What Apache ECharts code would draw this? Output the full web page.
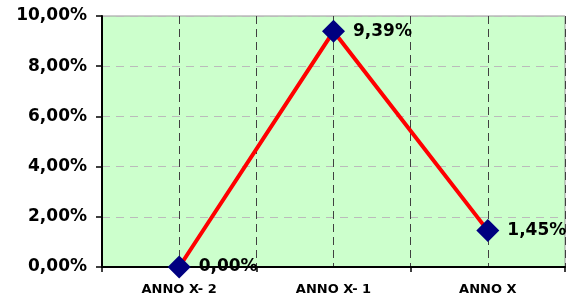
<!DOCTYPE html>
<html>
<head>
<meta charset="utf-8">
<script src="https://cdn.jsdelivr.net/npm/echarts@6/dist/echarts.min.js"></script>
<style>
  html, body { margin: 0; padding: 0; background: #fff; }
  #chart { width: 568px; height: 299px; }
</style>
</head>
<body>
<div id="chart"></div>
<script>
// dati del grafico
var categories = ['ANNO X- 2', 'ANNO X- 1', 'ANNO X']
var values = [0.0, 9.39, 1.45]
var yTicks = [0, 2, 4, 6, 8, 10]

var myChart = echarts.init(document.getElementById('chart'))

function fmt(v) {
  return v.toFixed(2).replace('.', ',') + '%'
}

var option = {
  animation: false,
  grid: {
    left: 102,
    right: 3,
    top: 16,
    bottom: 32,
    show: true,
    backgroundColor: '#CCFFCC',
    borderColor: '#999999',
    borderWidth: 1
  },
  xAxis: [
    {
      type: 'category',
      data: categories,
      boundaryGap: true,
      axisLine: { lineStyle: { color: '#000', width: 2 } },
      axisTick: { show: true, length: 5, lineStyle: { color: '#000', width: 1.5 } },
      axisLabel: {
        color: '#000',
        fontFamily: 'DejaVu Sans',
        fontWeight: 'bold',
        fontSize: 13,
        margin: 16
      },
      splitLine: { show: false }
    },
    {
      // asse nascosto solo per le linee verticali tratteggiate
      type: 'category',
      data: ['', '', '', '', '', ''],
      position: 'bottom',
      axisLine: { show: false },
      axisTick: { show: false },
      axisLabel: { show: false },
      splitLine: {
        show: true,
        lineStyle: { color: '#404040', type: [8, 5], width: 1 }
      }
    }
  ],
  yAxis: {
    type: 'value',
    min: yTicks[0],
    max: yTicks[yTicks.length - 1],
    interval: 2,
    axisLine: { show: true, lineStyle: { color: '#000', width: 2 } },
    axisTick: { show: true, length: 6, lineStyle: { color: '#000', width: 1.5 } },
    axisLabel: {
      color: '#000',
      fontFamily: 'DejaVu Sans',
      fontWeight: 'bold',
      fontSize: 17,
      margin: 15,
      formatter: function (v) { return fmt(v) }
    },
    splitLine: {
      show: true,
      lineStyle: { color: '#BBBBBB', type: [8, 6], width: 1 }
    }
  },
  series: [
    {
      type: 'line',
      data: values,
      xAxisIndex: 0,
      symbol: 'diamond',
      symbolSize: 23,
      itemStyle: { color: '#000080' },
      lineStyle: { color: '#FF0000', width: 4 },
      z: 5,
      label: {
        show: true,
        position: 'right',
        distance: 8,
        color: '#000',
        fontFamily: 'DejaVu Sans',
        fontWeight: 'bold',
        fontSize: 17,
        formatter: function (p) { return fmt(p.value) }
      }
    }
  ]
}

myChart.setOption(option)
</script>
</body>
</html>
